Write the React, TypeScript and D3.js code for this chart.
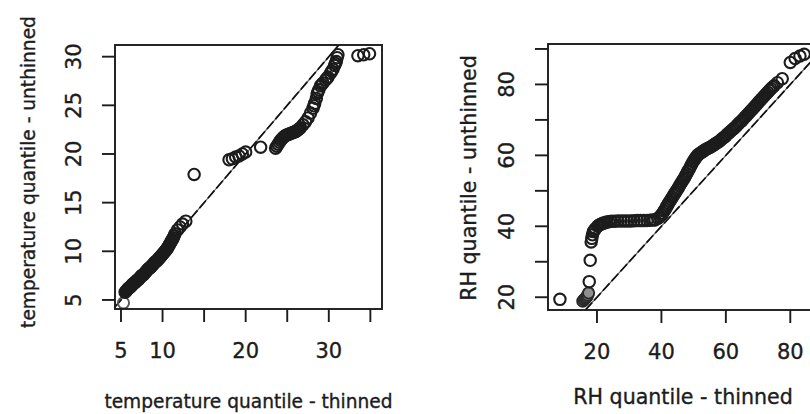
import * as d3 from "d3";
import { useEffect, useRef } from "react";

// temperature: thinned quantiles (x) vs unthinned quantiles (y)
const tempThinned = [
  5.5, 5.6, 5.7, 5.8, 5.9, 6.0, 6.1, 6.2, 6.3, 6.4, 6.5, 6.6, 6.7, 6.8, 6.9, 7.0, 7.1, 7.2,
  7.3, 7.4, 7.5, 7.6, 7.7, 7.8, 7.9, 8.0, 8.1, 8.2, 8.3, 8.4, 8.5, 8.6, 8.7, 8.8, 8.9, 9.0,
  9.1, 9.2, 9.3, 9.4, 9.5, 9.6, 9.7, 9.8, 9.9, 10.0, 10.1, 10.2, 10.3, 10.4, 10.5, 10.6,
  10.7, 10.8, 10.9, 11.0, 11.1, 11.2, 11.3, 11.4, 11.5, 11.8, 12.1, 12.4, 12.8,
  13.8, 18.0, 18.4, 18.8, 19.2, 19.6, 20.0, 21.8, 23.6, 23.9, 24.2, 24.5, 24.8, 25.1,
  25.4, 25.7, 26.0, 26.3, 26.6, 26.9, 27.2, 27.5, 27.8, 28.1, 28.3, 28.5, 28.6, 28.8, 29.0,
  29.3, 29.6, 29.9, 30.2, 30.5, 30.7, 30.9, 31.0, 31.1, 33.5, 34.2, 34.9,
];
const tempUnthinned = [
  5.8, 5.9, 6.0, 6.1, 6.2, 6.25, 6.3, 6.4, 6.5, 6.6, 6.7, 6.75, 6.8, 6.9, 7.0, 7.05, 7.1, 7.2,
  7.3, 7.4, 7.5, 7.55, 7.6, 7.7, 7.8, 7.9, 8.0, 8.1, 8.2, 8.25, 8.3, 8.4, 8.5, 8.6, 8.7, 8.8,
  8.9, 8.95, 9.0, 9.1, 9.2, 9.3, 9.4, 9.5, 9.6, 9.7, 9.8, 9.9, 10.0, 10.1, 10.2, 10.35,
  10.5, 10.65, 10.8, 10.95, 11.1, 11.25, 11.4, 11.6, 11.8, 12.2, 12.5, 12.8, 13.1,
  17.9, 19.4, 19.5, 19.7, 19.8, 20.0, 20.2, 20.7, 20.6, 21.0, 21.4, 21.7, 21.9, 22.0,
  22.1, 22.2, 22.3, 22.5, 22.7, 23.0, 23.3, 23.7, 24.2, 24.7, 25.2, 25.7, 26.2, 26.6, 27.0,
  27.3, 27.6, 27.9, 28.3, 28.7, 29.1, 29.5, 29.9, 30.2, 30.1, 30.2, 30.3,
];
const tempThinnedExtra = [
  23.75, 24.05, 24.35, 24.65, 24.95, 25.25, 25.55, 25.85, 26.15, 26.45,
  28.2, 28.7, 29.15, 29.75, 30.35, 30.8,
];
const tempUnthinnedExtra = [
  20.8, 21.2, 21.55, 21.8, 21.95, 22.05, 22.15, 22.25, 22.4, 22.6,
  24.95, 26.4, 27.15, 27.75, 28.5, 29.3,
];
const tempGreyX = [5.3];
const tempGreyY = [4.7];

// RH: thinned quantiles (x) vs unthinned quantiles (y)
const rhThinned = [
  8.5, 17.6, 17.9, 18.2, 18.4, 18.6, 18.9, 19.5, 20.2, 21.0, 22.0, 23.0, 24.5, 26.5, 28.5,
  30.5, 32.5, 34.5, 36.5, 38.0, 39.0, 40.0, 40.8, 41.5, 42.2, 43.0, 43.8, 44.5, 45.2, 46.0,
  46.8, 47.5, 48.2, 49.0, 49.8, 50.5, 51.2, 52.0, 53.0, 54.0, 55.0, 56.0, 57.0, 58.0, 59.0,
  60.0, 61.0, 62.0, 63.0, 64.0, 65.0, 66.0, 67.0, 68.0, 69.0, 70.0, 71.0, 72.0, 73.0, 74.0,
  75.0, 76.0, 77.5, 80.0, 81.5, 83.0, 84.3,
];
const rhUnthinned = [
  19.4, 24.4, 30.4, 35.6, 36.6, 37.6, 38.5, 39.3, 40.0, 40.5, 40.9, 41.2, 41.4, 41.5, 41.5,
  41.5, 41.6, 41.6, 41.7, 41.8, 42.3, 43.2, 44.3, 45.4, 46.5, 47.6, 48.8, 49.8, 50.8, 52.0,
  53.2, 54.3, 55.5, 56.8, 58.2, 59.2, 60.0, 60.6, 61.2, 61.8, 62.2, 62.8, 63.4, 64.0, 64.8,
  65.5, 66.4, 67.2, 68.0, 69.0, 69.8, 70.8, 71.8, 72.8, 73.8, 74.8, 75.8, 76.8, 77.8, 78.8,
  79.6, 80.5, 81.6, 86.2, 87.3, 88.0, 88.5,
];
const rhThinnedExtra = [
  19.2, 20.6, 21.5, 22.5, 23.7, 25.5, 27.5, 29.5, 31.5, 33.5, 35.5, 37.3,
  39.5, 40.4, 41.2, 41.9, 42.6, 43.4, 44.2, 44.9, 45.6, 46.4, 47.2, 47.9, 48.6, 49.4, 50.2,
  50.9, 51.6, 52.5, 53.5, 54.5, 55.5, 56.5, 57.5, 58.5, 59.5, 60.5, 61.5, 62.5, 63.5, 64.5,
  65.5, 66.5, 67.5, 68.5, 69.5, 70.5, 71.5, 72.5, 73.5, 74.5,
];
const rhUnthinnedExtra = [
  38.9, 40.3, 40.7, 41.0, 41.3, 41.45, 41.5, 41.5, 41.55, 41.6, 41.65, 41.75,
  42.7, 43.7, 44.8, 45.9, 47.0, 48.2, 49.3, 50.3, 51.4, 52.6, 53.7, 54.9, 56.1, 57.5, 58.7,
  59.6, 60.3, 60.9, 61.5, 62.0, 62.5, 63.1, 63.7, 64.4, 65.1, 66.0, 66.8, 67.6, 68.5, 69.4,
  70.3, 71.3, 72.3, 73.3, 74.3, 75.3, 76.3, 77.3, 78.3, 79.2,
];
const rhGreyX = [15.6, 16.0, 16.4, 16.8, 17.1, 17.4];
const rhGreyY = [18.9, 19.3, 19.7, 20.1, 20.6, 21.2];

const tempXTicks = [5, 10, 15, 20, 25, 30, 35];
const tempXLabels = [5, 10, 20, 30];
const tempYTicks = [5, 10, 15, 20, 25, 30];
const rhXTicks = [20, 40, 60, 80];
const rhYTicks = [20, 30, 40, 50, 60, 70, 80, 90];
const rhYLabels = [20, 40, 60, 80];

const FONT = "DejaVu Sans, Verdana, sans-serif";
const INK = "#1c1c1c";

function addText(sel, size) {
  return sel
    .attr("font-family", FONT)
    .attr("font-size", size)
    .attr("fill", INK)
    .attr("stroke", INK)
    .attr("stroke-width", 0.35);
}

function drawPanel(svg, p) {
  const x = d3.scaleLinear().domain(p.xDomain).range([p.left, p.right]);
  const y = d3.scaleLinear().domain(p.yDomain).range([p.bottom, p.top]);
  const g = svg.append("g");

  const clipId = "clip-" + p.id;
  svg.append("defs").append("clipPath").attr("id", clipId)
    .append("rect")
    .attr("x", p.left).attr("y", p.top)
    .attr("width", p.right - p.left).attr("height", p.bottom - p.top);

  const inner = g.append("g").attr("clip-path", `url(#${clipId})`);

  // 1:1 reference line
  const lo = Math.max(p.xDomain[0], p.yDomain[0]);
  const hi = Math.min(p.xDomain[1], p.yDomain[1]);
  inner.append("line")
    .attr("x1", x(lo)).attr("y1", y(lo)).attr("x2", x(hi)).attr("y2", y(hi))
    .attr("stroke", "#666").attr("stroke-width", 1.2);
  inner.append("line")
    .attr("x1", x(lo)).attr("y1", y(lo)).attr("x2", x(hi)).attr("y2", y(hi))
    .attr("stroke", "#111").attr("stroke-width", 1.7)
    .attr("stroke-dasharray", "10,3");

  // grey points
  inner.selectAll("circle.grey")
    .data(d3.range(p.greyX.length))
    .enter().append("circle")
    .attr("class", "grey")
    .attr("cx", (i) => x(p.greyX[i]))
    .attr("cy", (i) => y(p.greyY[i]))
    .attr("r", 5.6)
    .attr("fill", "#8f8f8f")
    .attr("fill-opacity", p.greyFill ? 1 : 0)
    .attr("stroke", p.greyFill ? "#2a2a2a" : "#555")
    .attr("stroke-width", 1.9);

  // main points
  const pts = [];
  p.xs.forEach((v, i) => pts.push([v, p.ys[i]]));
  p.xsExtra.forEach((v, i) => pts.push([v, p.ysExtra[i]]));
  inner.selectAll("circle.pt")
    .data(pts)
    .enter().append("circle")
    .attr("class", "pt")
    .attr("cx", (d) => x(d[0]))
    .attr("cy", (d) => y(d[1]))
    .attr("r", 5.7)
    .attr("fill", "none")
    .attr("stroke", INK)
    .attr("stroke-width", 2.1);

  // box
  g.append("rect")
    .attr("x", p.left).attr("y", p.top)
    .attr("width", p.right - p.left).attr("height", p.bottom - p.top)
    .attr("fill", "none").attr("stroke", INK).attr("stroke-width", 1.9);

  // x axis
  g.selectAll("line.xt").data(p.xTicks).enter().append("line")
    .attr("x1", (d) => x(d)).attr("x2", (d) => x(d))
    .attr("y1", p.bottom).attr("y2", p.bottom + 13)
    .attr("stroke", INK).attr("stroke-width", 1.9);
  addText(
    g.selectAll("text.xl").data(p.xLabels).enter().append("text")
      .attr("x", (d) => x(d)).attr("y", p.bottom + 49)
      .attr("text-anchor", "middle"),
    21
  ).text((d) => d);

  // y axis
  g.selectAll("line.yt").data(p.yTicks).enter().append("line")
    .attr("y1", (d) => y(d)).attr("y2", (d) => y(d))
    .attr("x1", p.left).attr("x2", p.left - 13)
    .attr("stroke", INK).attr("stroke-width", 1.9);
  addText(
    g.selectAll("text.yl").data(p.yLabels).enter().append("text")
      .attr("transform", (d) => `translate(${p.left - 34},${y(d)}) rotate(-90)`)
      .attr("text-anchor", "middle"),
    21
  ).text((d) => d);

  // titles
  addText(
    g.append("text")
      .attr("x", (p.left + p.right) / 2).attr("y", p.xTitleY)
      .attr("text-anchor", "middle"),
    p.titleSize
  ).text(p.xTitle);
  addText(
    g.append("text")
      .attr("transform", `translate(${p.yTitleX},${p.yTitleCY}) rotate(-90)`)
      .attr("text-anchor", "middle"),
    p.titleSize
  ).text(p.yTitle);
}

export default function App() {
  const ref = useRef(null);

  useEffect(() => {
    if (!ref.current) return;
    const svg = d3.select(ref.current);
    svg.selectAll("*").remove();

    drawPanel(svg, {
      id: "temp",
      left: 115, right: 382, top: 45, bottom: 309,
      xDomain: [4.28, 36.4], yDomain: [4.07, 31.2],
      xs: tempThinned, ys: tempUnthinned,
      xsExtra: tempThinnedExtra, ysExtra: tempUnthinnedExtra,
      greyX: tempGreyX, greyY: tempGreyY, greyFill: false,
      xTicks: tempXTicks, xLabels: tempXLabels,
      yTicks: tempYTicks, yLabels: tempYTicks,
      xTitle: "temperature quantile - thinned",
      yTitle: "temperature quantile - unthinned",
      titleSize: 18.6, xTitleY: 408, yTitleX: 35, yTitleCY: 172,
    });

    drawPanel(svg, {
      id: "rh",
      left: 548, right: 818, top: 44, bottom: 310,
      xDomain: [4.8, 88.6], yDomain: [16.4, 91.4],
      xs: rhThinned, ys: rhUnthinned,
      xsExtra: rhThinnedExtra, ysExtra: rhUnthinnedExtra,
      greyX: rhGreyX, greyY: rhGreyY, greyFill: true,
      xTicks: rhXTicks, xLabels: rhXTicks,
      yTicks: rhYTicks, yLabels: rhYLabels,
      xTitle: "RH quantile - thinned",
      yTitle: "RH quantile - unthinned",
      titleSize: 20.6, xTitleY: 404, yTitleX: 476, yTitleCY: 178,
    });
  }, []);

  return (
    <svg
      ref={ref}
      width={810}
      height={414}
      style={{ position: "absolute", left: 0, top: 0, background: "#fff" }}
    />
  );
}
